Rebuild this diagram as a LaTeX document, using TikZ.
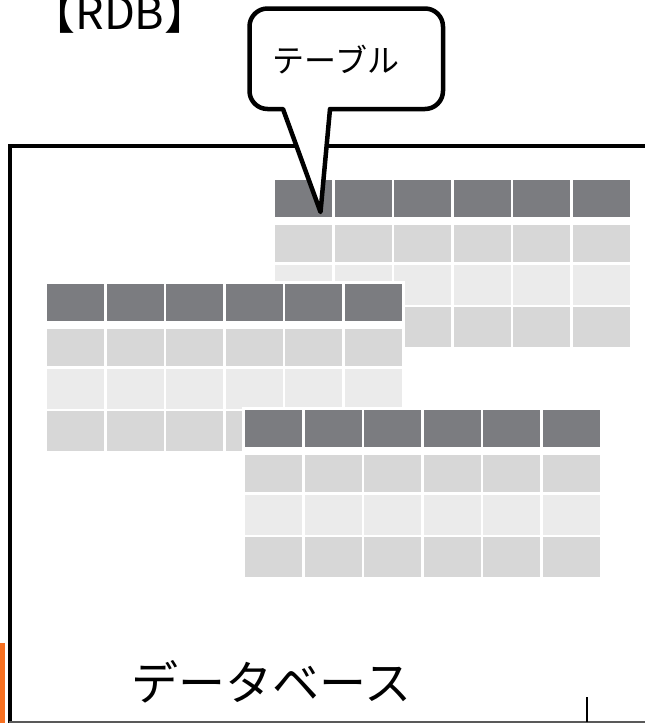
\documentclass[tikz,border=0pt]{standalone}
\usepackage{fontspec}
\setmainfont{Noto Sans CJK JP}
\definecolor{hdrgray}{RGB}{123,124,128}
\definecolor{cellA}{RGB}{215,215,215}
\definecolor{cellB}{RGB}{235,235,235}
\definecolor{accent}{RGB}{247,112,32}
\newcommand\mytable[2]{%
  \fill[white] ({#1-3},{#2-3}) rectangle ({#1+358},{#2+170});
  \foreach \c in {0,...,5}{%
    \fill[hdrgray] ({#1+\c*59.6},{#2}) rectangle ++(57,37);
    \fill[cellA] ({#1+\c*59.6},{#2+45}) rectangle ++(57,37);
    \fill[cellB] ({#1+\c*59.6},{#2+85}) rectangle ++(57,40);
    \fill[cellA] ({#1+\c*59.6},{#2+127}) rectangle ++(57,40);
  }%
}
\begin{document}
\begin{tikzpicture}[x=1pt,y=-1pt,
  frameline/.style={line width=4pt,line join=miter},
  calloutshape/.style={line width=4.5pt,fill=white,draw=black,line join=round}]
\useasboundingbox (0,0) rectangle (645,723);
% frame
\draw[frameline] (9.5,723) -- (9.5,146) -- (645,146);
% tables
\mytable{275}{180}
\mytable{47}{284}
\mytable{245}{410}
% callout
\filldraw[calloutshape] (283,109) -- (320.5,212) -- (330,109) [rounded corners=18pt] -- (443,109) -- (443,8.5) -- (249.5,8.5) -- (249.5,109) [sharp corners] -- cycle;
\node[inner sep=0pt,font=\fontsize{32}{32}\selectfont] (tbl) at (336,59.5) {テーブル};
% title
\node[inner sep=0pt,anchor=base,font=\fontsize{45}{45}\selectfont] (rdb) at (120,29) {【RDB】};
% bottom
\fill[accent] (0,643) rectangle (5,723);
\draw[line width=1.5pt,black!65] (9,722) -- (645,722);
\draw[line width=1.2pt] (587,697) -- (587,722);
\node[inner sep=0pt,font=\fontsize{47}{47}\selectfont] (db) at (271.5,682) {データベース};
\end{tikzpicture}
\end{document}
